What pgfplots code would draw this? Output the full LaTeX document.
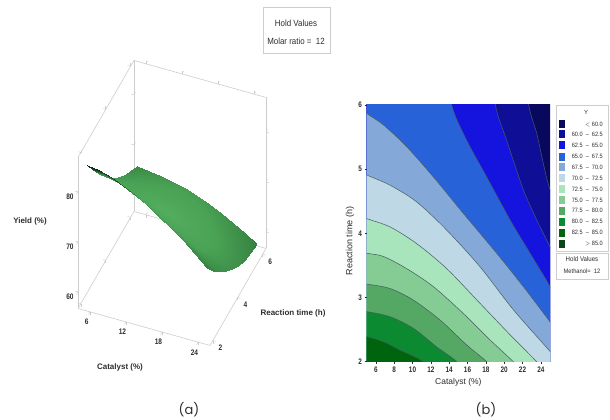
\documentclass[border=0pt]{standalone}
\usepackage{pgfplots}
\pgfplotsset{compat=1.18}
\usepackage{fontspec}
\setmainfont{Liberation Sans}
\newfontfamily\capfont{Poppins}
\definecolor{r11}{RGB}{8,8,92}
\definecolor{r10}{RGB}{14,14,150}
\definecolor{r9}{RGB}{20,20,222}
\definecolor{r8}{RGB}{40,98,216}
\definecolor{r7}{RGB}{132,168,216}
\definecolor{r6}{RGB}{190,216,230}
\definecolor{r5}{RGB}{168,228,188}
\definecolor{r4}{RGB}{132,204,148}
\definecolor{r3}{RGB}{84,168,100}
\definecolor{r2}{RGB}{12,138,50}
\definecolor{r1}{RGB}{0,100,14}
\definecolor{r0}{RGB}{10,70,26}
\definecolor{cl}{RGB}{70,90,95}
\definecolor{boxg}{RGB}{205,205,205}
\definecolor{txt}{RGB}{45,45,45}
\begin{document}
\begin{tikzpicture}[x=1pt,y=1pt]
\path[use as bounding box] (0,0) rectangle (610,420);
% ---------- (a) surface
\begin{axis}[
  anchor=origin, at={(78pt,111.5pt)},
  x={(6pt,-1.68pt)}, y={(12.44pt,21.56pt)}, z={(0pt,5pt)},
  xmin=4, xmax=26, ymin=1.77, ymax=6.27, zmin=56.67, zmax=86.87,
  xtick={6,12,18,24}, ytick={2,4,6}, ztick={60,70,80},
  axis line style={boxg,line width=0.6pt},
  tick style={boxg,line width=0.5pt},
  tick align=outside, major tick length=3pt,
  tick label style={font=\fontsize{8}{9}\selectfont\bfseries, text=txt, xscale=0.82},
  /pgf/number format/assume math mode=true,
  grid=none,
  xlabel={Catalyst (\%)}, ylabel={Reaction time (h)}, zlabel={Yield (\%)},
  every axis x label/.style={at={(axis cs:11,1.77,47.2)},anchor=center},
  every axis y label/.style={at={(axis cs:39.83,1.77,67.7)},anchor=center},
  every axis z label/.style={at={(axis cs:-4,1.77,71.4)},anchor=center},
  label style={font=\fontsize{8}{9}\selectfont\bfseries, text=txt},
  colormap={g}{rgb255(0)=(84,174,96) rgb255(7)=(74,162,85) rgb255(12)=(56,134,68) rgb255(20)=(8,30,18)},
  point meta min=0, point meta max=2,
  clip=false,
]
\addplot3[surf, shader=interp, mesh/rows=9, mesh/cols=11,
  point meta={sqrt(((x-14)/11)^2+((y-4)/2.5)^2)+max(0,z-79)*0.2}]
coordinates {
(5,2,84.8)(7,2,84.4)(9,2,83.6)(11,2,82.6)(13,2,81.4)(15,2,80.0)(17,2,78.4)(19,2,76.8)(21,2,75.0)(23,2,73.0)(25,2,70.8)
(5,2.5,81.6)(7,2.5,81.25)(9,2.5,80.55)(11,2.5,79.5)(13,2.5,78.25)(15,2.5,76.85)(17,2.5,75.25)(19,2.5,73.7)(21,2.5,71.95)(23,2.5,70.15)(25,2.5,68.15)
(5,3,78.7)(7,3,78.4)(9,3,77.8)(11,3,76.7)(13,3,75.4)(15,3,74.0)(17,3,72.4)(19,3,70.9)(21,3,69.2)(23,3,67.6)(25,3,65.8)
(5,3.5,75.97)(7,3.5,75.57)(9,3.5,74.97)(11,3.5,73.97)(13,3.5,72.82)(15,3.5,71.47)(17,3.5,69.97)(19,3.5,68.55)(21,3.5,67.12)(23,3.5,65.52)(25,3.5,63.77)
(5,4,73.5)(7,4,72.87)(9,4,72.13)(11,4,71.27)(13,4,70.29)(15,4,69.2)(17,4,67.99)(19,4,66.67)(21,4,65.23)(23,4,63.67)(25,4,62.0)
(5,4.5,71.5)(7,4.5,70.97)(9,4.5,70.32)(11,4.5,69.54)(13,4.5,68.63)(15,4.5,67.6)(17,4.5,66.44)(19,4.5,65.16)(21,4.5,63.75)(23,4.5,62.21)(25,4.5,60.55)
(5,5,69.7)(7,5,69.24)(9,5,68.64)(11,5,67.92)(13,5,67.08)(15,5,66.1)(17,5,65.0)(19,5,63.76)(21,5,62.4)(23,5,60.92)(25,5,59.3)
(5,5.5,68.35)(7,5.5,68.06)(9,5.5,67.62)(11,5.5,67.03)(13,5.5,66.29)(15,5.5,65.4)(17,5.5,64.36)(19,5.5,63.17)(21,5.5,61.83)(23,5.5,60.34)(25,5.5,58.7)
(5,6,67.2)(7,6,67.01)(9,6,66.67)(11,6,66.17)(13,6,65.51)(15,6,64.7)(17,6,63.73)(19,6,62.61)(21,6,61.33)(23,6,59.89)(25,6,58.3)
};
\end{axis}
% hold box (a)
\draw[boxg,line width=0.6pt,fill=white] (263,367) rectangle (330,413);
\node[font=\fontsize{9}{10}\selectfont,text=txt,xscale=0.88] at (296,397) {Hold Values};
\node[font=\fontsize{9}{10}\selectfont,text=txt,xscale=0.88] at (296,379) {Molar ratio =\ \ 12};
\node[font=\capfont\fontsize{13}{15}\selectfont,text=txt] at (189,10) {(a)};
% ---------- (b) contour
\begin{axis}[
  anchor=south west, at={(366.7pt,58.3pt)},
  width=183.3pt, height=256.7pt, scale only axis,
  xmin=5, xmax=25, ymin=2, ymax=6,
  xtick={6,8,...,24}, ytick={2,3,4,5,6},
  axis line style={draw=none},
  axis on top,
  tick align=outside, major tick length=2pt,
  tick style={txt,line width=0.4pt},
  xtick pos=bottom, ytick pos=left,
  tick label style={font=\fontsize{8}{9}\selectfont\bfseries, text=txt, xscale=0.8},
  /pgf/number format/assume math mode=true,
  xlabel={Catalyst (\%)}, ylabel={Reaction time (h)},
  xlabel style={font=\fontsize{8.5}{10}\selectfont, text=txt, at={(axis cs:15,1.68)}, anchor=center},
  ylabel style={font=\fontsize{9}{10}\selectfont, text=txt, at={(axis cs:3.18,3.88)}, anchor=center},
]
\addplot[draw=none,fill=r11] coordinates {(3,1.4)(27,1.4)(27,6.8)(3,6.8)} -- cycle;
\addplot[draw=cl,line width=0.5pt,fill=r10,smooth] coordinates {(22.2,6.8)(22.68,6)(23.55,5.56)(24.27,5.09)(25,4.68)(27,3.9)(27,1.4)(3,1.4)(3,6.8)} -- cycle;
\addplot[draw=cl,line width=0.5pt,fill=r9,smooth] coordinates {(18.8,6.8)(19.05,6)(20.27,5.45)(22.09,4.68)(23.55,4.21)(25,3.79)(27,3.2)(27,1.4)(3,1.4)(3,6.8)} -- cycle;
\addplot[draw=cl,line width=0.5pt,fill=r8,smooth] coordinates {(13.5,6.8)(14.27,6)(15.91,5.45)(18.09,4.88)(20.64,4.21)(22.82,3.69)(25,3.17)(27,2.6)(27,1.4)(3,1.4)(3,6.8)} -- cycle;
\addplot[draw=cl,line width=0.5pt,fill=r7,smooth] coordinates {(3,6.1)(5,5.87)(6.82,5.69)(9.36,5.35)(12.27,4.88)(15.55,4.31)(19.18,3.69)(22.09,3.17)(25,2.62)(27,2.2)(27,1.4)(3,1.4)} -- cycle;
\addplot[draw=cl,line width=0.5pt,fill=r6,smooth] coordinates {(3,5.05)(5,4.91)(7.55,4.75)(10.45,4.49)(13.73,4.05)(17.36,3.48)(21,2.81)(25,2.16)(27,1.8)(27,1.4)(3,1.4)} -- cycle;
\addplot[draw=cl,line width=0.5pt,fill=r5,smooth] coordinates {(3,4.35)(5,4.23)(7.55,4.10)(10.45,3.84)(13.73,3.45)(17.36,2.91)(20.64,2.42)(23.55,2)(25.5,1.7)(25.5,1.4)(3,1.4)} -- cycle;
\addplot[draw=cl,line width=0.5pt,fill=r4,smooth] coordinates {(3,3.75)(5,3.69)(6.82,3.64)(9.36,3.45)(12.27,3.17)(15.55,2.75)(18.45,2.34)(21,2)(23,1.7)(23,1.4)(3,1.4)} -- cycle;
\addplot[draw=cl,line width=0.5pt,fill=r3,smooth] coordinates {(3,3.25)(5,3.21)(7.55,3.14)(10.09,2.96)(13,2.65)(15.91,2.26)(18.09,2)(20,1.7)(20,1.4)(3,1.4)} -- cycle;
\addplot[draw=cl,line width=0.5pt,fill=r2,smooth] coordinates {(3,2.81)(5,2.78)(7.55,2.70)(10.09,2.52)(12.64,2.23)(14.82,2)(16.5,1.7)(16.5,1.4)(3,1.4)} -- cycle;
\addplot[draw=cl,line width=0.5pt,fill=r1,smooth] coordinates {(3,2.42)(5,2.39)(6.82,2.31)(8.64,2.18)(11.18,2)(13,1.7)(13,1.4)(3,1.4)} -- cycle;
\end{axis}
% legend panel (b)
\draw[boxg,line width=0.6pt,fill=white] (556,169) rectangle (608,315);
\draw[boxg,line width=0.6pt,fill=white] (556,141) rectangle (608,167);
\node[font=\fontsize{6}{7}\selectfont,text=txt] at (586,308) {Y};
\foreach \c/\yy/\t in {r11/295.7/{$<$ 60.0},r10/285.7/{60.0\ \ –\ \ 62.5},r9/275/{62.5\ \ –\ \ 65.0},r8/263.3/{65.0\ \ –\ \ 67.5},r7/252.7/{67.5\ \ –\ \ 70.0},r6/241.7/{70.0\ \ –\ \ 72.5},r5/230.7/{72.5\ \ –\ \ 75.0},r4/220/{75.0\ \ –\ \ 77.5},r3/209.3/{77.5\ \ –\ \ 80.0},r2/198.3/{80.0\ \ –\ \ 82.5},r1/187.3/{82.5\ \ –\ \ 85.0},r0/176/{$>$ 85.0}}{
  \fill[\c] (559,\yy-4) rectangle (565,\yy+4);
  \node[font=\fontsize{6.2}{7}\selectfont,text=txt,anchor=east,xscale=0.9,inner sep=0pt] at (603,\yy) {\t};
}
\node[font=\fontsize{6.8}{8}\selectfont,text=txt,xscale=0.9] at (582,160.5) {Hold Values};
\node[font=\fontsize{6.4}{8}\selectfont,text=txt,xscale=0.9] at (582,149) {Methanol=\ \ 12};
\node[font=\capfont\fontsize{13}{15}\selectfont,text=txt] at (486,10) {(b)};
\end{tikzpicture}
\end{document}
